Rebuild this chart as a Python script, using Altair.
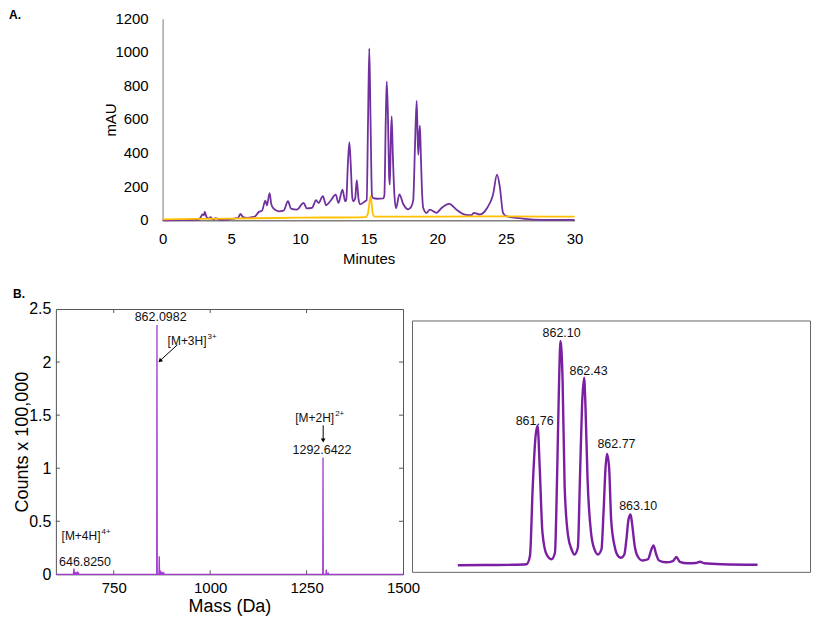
import altair as alt
import pandas as pd

FONT = "Liberation Sans"

# ---------------- Panel A: HPLC chromatogram ----------------
hplc_t = [0, 2.6, 2.75, 2.9, 3.0, 3.07, 3.15, 3.24, 3.4, 3.49, 3.6, 3.73, 3.85, 3.97, 4.1, 4.21,
          4.7, 5.18, 5.5, 5.66, 5.86, 6.15, 6.51, 6.75, 7.0, 7.24, 7.48, 7.6, 7.79, 7.92, 8.09,
          8.45, 8.81, 9.13, 9.35, 9.78, 10.26, 10.5, 10.87, 11.18, 11.35, 11.67, 11.91, 12.2,
          12.61, 12.8, 13.1, 13.29, 13.37, 13.5, 13.6, 13.7, 13.82, 13.9, 14.02, 14.14, 14.26,
          14.38, 14.74, 14.86, 14.96, 15.05, 15.14, 15.25, 15.35, 15.6, 16.07, 16.15, 16.25,
          16.32, 16.4, 16.5, 16.55, 16.62, 16.68, 16.76, 16.88, 17.0, 17.24, 17.53, 17.89,
          18.1, 18.25, 18.38, 18.5, 18.57, 18.62, 18.68, 18.74, 18.8, 18.88, 18.98, 19.22,
          19.46, 19.95, 20.31, 20.87, 21.4, 22.0, 22.49, 22.66, 23.09, 23.63, 24.06, 24.35,
          24.55, 24.79, 25.03, 26.0, 27.0, 28.5, 30]
hplc_mau = [0, 2, 15, 34, 30, 49, 30, 14, 10, 18, 8, 4, 12, 10, 4, 2,
            4, 10, 14, 38, 18, 14, 18, 24, 49, 57, 117, 89, 162, 93, 69,
            53, 57, 113, 69, 63, 103, 70, 73, 119, 103, 143, 89, 113,
            152, 103, 182, 113, 120, 350, 465, 330, 130, 113, 130, 238, 130,
            95, 113, 120, 600, 1024, 600, 140, 131, 128, 130, 150, 600,
            826, 650, 250, 212, 500, 618, 400, 150, 71, 154, 95, 65,
            80, 120, 450, 711, 500, 390, 500, 564, 400, 190, 73, 44,
            63, 44, 73, 97, 63, 34, 30, 44, 34, 73, 152, 271,
            202, 44, 24, 12, 4, 2, 2]
ref_t = [0, 5, 10, 14.8, 14.95, 15.15, 15.3, 15.45, 20, 25, 30]
ref_mau = [5, 10, 15, 19, 40, 143, 40, 21, 22, 23, 21]
a_xticks = [0, 5, 10, 15, 20, 25, 30]
a_yticks = [0, 200, 400, 600, 800, 1000, 1200]

# ---------------- Panel B left: full mass spectrum ----------------
ms_mass = [600, 645.5, 646.8, 648.0, 650.0, 651.0, 652.0, 654.5, 655.5, 657.5, 658.5, 659.5,
           861.4, 862.1, 862.8, 867.2, 868.0, 868.8, 870.5, 871.5, 872.5, 874.5, 875.5, 876.5,
           879.0, 880.0, 881.0, 1291.9, 1292.6, 1293.3, 1300.2, 1301.0, 1301.8, 1305.0,
           1306.0, 1307.0, 1500]
ms_counts = [0, 0, 0.055, 0, 0, 0.022, 0, 0, 0.025, 0, 0.018, 0,
             0, 2.35, 0, 0, 0.17, 0, 0, 0.035, 0, 0, 0.02, 0,
             0, 0.012, 0, 0, 1.10, 0, 0, 0.045, 0, 0,
             0.015, 0, 0]
b_xticks = [750, 1000, 1250, 1500]
b_yticks = [0, 0.5, 1, 1.5, 2, 2.5]
b_inner_xticks = [750, 1000, 1250]
b_inner_yticks = [0.5, 1, 1.5, 2]

# annotations (data coordinates)
ann_text = ["862.0982", "1292.6422", "646.8250"]
ann_mass = [871.6, 1290.0, 675.5]
ann_cnt = [2.425, 1.168, 0.116]
ion_text = ["[M+3H]", "[M+2H]", "[M+4H]"]
ion_sup = ["3+", "2+", "4+"]
ion_mass = [889.6, 1220.7, 614.7]
ion_cnt = [2.20, 1.476, 0.36]
arrow_x = [914.7, 1293.0]
arrow_y = [2.162, 1.404]
arrow_x2 = [869.7, 1293.0]
arrow_y2 = [2.012, 1.262]
arrow_angle = [227, 180]

# ---------------- Panel B right: isotope envelope ----------------
iso_mz = [860.61, 861.0, 861.40, 861.60, 861.65, 861.69, 861.73, 861.76, 861.79, 861.83,
          861.89, 861.96, 862.01, 862.04, 862.07, 862.09, 862.12, 862.15, 862.20, 862.25,
          862.29, 862.34, 862.37, 862.40, 862.43, 862.45, 862.48, 862.53, 862.58, 862.63,
          862.68, 862.71, 862.74, 862.76, 862.79, 862.82, 862.87, 862.92, 862.96, 863.01,
          863.04, 863.07, 863.10, 863.12, 863.16, 863.20, 863.27, 863.35, 863.40, 863.43,
          863.47, 863.51, 863.61, 863.71, 863.76, 863.81, 863.92, 864.04, 864.10, 864.16,
          864.42, 864.93]
iso_int = [0.028, 0.029, 0.030, 0.032, 0.065, 0.34, 0.54, 0.583, 0.42, 0.158,
           0.071, 0.052, 0.078, 0.369, 0.766, 0.921, 0.766, 0.34, 0.144, 0.091,
           0.071, 0.098, 0.369, 0.66, 0.774, 0.66, 0.37, 0.158, 0.091, 0.071,
           0.091, 0.237, 0.42, 0.472, 0.42, 0.21, 0.104, 0.065, 0.058, 0.071,
           0.131, 0.21, 0.23, 0.197, 0.104, 0.065, 0.047, 0.052, 0.091, 0.107,
           0.071, 0.047, 0.040, 0.045, 0.061, 0.042, 0.036, 0.037, 0.042, 0.036,
           0.032, 0.030]
iso_lab = ["861.76", "862.10", "862.43", "862.77", "863.10"]
iso_lab_mz = [861.718, 862.106, 862.494, 862.897, 863.21]
iso_lab_int = [0.603, 0.952, 0.802, 0.512, 0.262]

# ================= layout constants (pixels) =================
A_W, A_H = 520, 202          # panel A view shares its left origin with panel B-left
A_X0 = 107                   # where panel A's axes start inside its view
BL_W, BL_H = 348, 266
BR_X0, BR_X1 = 357, 757      # isotope box, drawn beside the B-left frame
BR_Y0, BR_Y1 = 12, 264
LEFT_EXT = 47                # left extent shared by both rows

ax_common = dict(labelColor="black", titleColor="black", titleFontWeight="normal",
                 labelOverlap=False, labelFlush=False, grid=False, ticks=False)

# ---------------- Panel A ----------------
xa = alt.X("t:Q", scale=alt.Scale(domain=[0, 30], nice=False, range=[A_X0, A_W]),
           axis=alt.Axis(values=a_xticks, format="d", title="Minutes",
                         domainColor="#7f7f7f", domainWidth=1.5, labelFontSize=15, titleFontSize=15,
                         labelPadding=11, titlePadding=5, titleX=A_X0 + (A_W - A_X0) / 2,
                         **ax_common))
ya = alt.Y("v:Q", scale=alt.Scale(domain=[0, 1200], nice=False),
           axis=alt.Axis(values=a_yticks, labels=False, title="mAU", offset=-A_X0,
                         domainColor="#a6a6a6", domainWidth=1.5, titleFontSize=15,
                         titleX=-52, titleBaseline="middle", **ax_common))
purple = alt.Chart(pd.DataFrame({"t": hplc_t, "v": hplc_mau})).mark_line(
    color="#7030A0", strokeWidth=1.8, interpolate="monotone").encode(x=xa, y=ya)
yellow = alt.Chart(pd.DataFrame({"t": ref_t, "v": ref_mau})).mark_line(
    color="#FFC000", strokeWidth=1.8, interpolate="monotone").encode(x="t:Q", y="v:Q")
ylab_a = alt.Chart(pd.DataFrame({"v": a_yticks})).mark_text(
    align="right", baseline="middle", fontSize=15, color="black").encode(
    x=alt.value(A_X0 - 14), y="v:Q", text=alt.Text("v:Q", format="d"))
lab_a = alt.Chart(pd.DataFrame({"s": ["A."]})).mark_text(
    align="left", baseline="top", fontSize=12, fontWeight="bold", color="black").encode(
    x=alt.value(-LEFT_EXT), y=alt.value(-9), text="s:N")
panel_a = alt.layer(purple, yellow, ylab_a, lab_a).properties(
    width=A_W, height=A_H, view=alt.ViewBackground(stroke=None))

# ---------------- Panel B left ----------------
xb = alt.X("m:Q", scale=alt.Scale(domain=[600, 1500], nice=False, zero=False),
           axis=alt.Axis(values=b_xticks, format="d", title="Mass (Da)", domain=False,
                         labelFontSize=15, titleFontSize=18, labelPadding=6, titlePadding=2,
                         **ax_common))
yb = alt.Y("c:Q", scale=alt.Scale(domain=[0, 2.5], nice=False),
           axis=alt.Axis(values=b_yticks, format="~g", title="Counts x 100,000", domain=False,
                         labelFontSize=16, titleFontSize=18, labelPadding=5, titleX=-33,
                         titleBaseline="middle", **ax_common))
spec = alt.Chart(pd.DataFrame({"m": ms_mass, "c": ms_counts})).mark_line(
    color="#A23BD0", strokeWidth=1.3).encode(x=xb, y=yb)
tick_x_df = pd.DataFrame({"m": b_inner_xticks})
tick_y_df = pd.DataFrame({"c": b_inner_yticks})
tk = dict(color="#555555", strokeWidth=1)
tb = alt.Chart(tick_x_df).mark_rule(**tk).encode(x="m:Q", y=alt.value(BL_H), y2=alt.value(BL_H - 4))
tt = alt.Chart(tick_x_df).mark_rule(**tk).encode(x="m:Q", y=alt.value(0), y2=alt.value(4))
tl = alt.Chart(tick_y_df).mark_rule(**tk).encode(y="c:Q", x=alt.value(0), x2=alt.value(4))
tr = alt.Chart(tick_y_df).mark_rule(**tk).encode(y="c:Q", x=alt.value(BL_W), x2=alt.value(BL_W - 4))
ann = alt.Chart(pd.DataFrame({"s": ann_text, "m": ann_mass, "c": ann_cnt})).mark_text(
    fontSize=12.5, color="#111111", align="center", baseline="middle").encode(x="m:Q", y="c:Q", text="s:N")
ion_df = pd.DataFrame({"s": ion_text, "u": ion_sup, "m": ion_mass, "c": ion_cnt})
ions = alt.Chart(ion_df).mark_text(
    fontSize=12, color="#111111", align="left", baseline="middle").encode(x="m:Q", y="c:Q", text="s:N")
sups = alt.Chart(ion_df).mark_text(
    fontSize=8, color="#111111", align="left", baseline="middle", dx=40, dy=-4).encode(
    x="m:Q", y="c:Q", text="u:N")
arr_df = pd.DataFrame({"m": arrow_x, "c": arrow_y, "m2": arrow_x2, "c2": arrow_y2, "a": arrow_angle})
arr_line = alt.Chart(arr_df).mark_rule(color="black", strokeWidth=1).encode(
    x="m:Q", y="c:Q", x2="m2:Q", y2="c2:Q")
arr_head = alt.Chart(arr_df).mark_point(shape="triangle-up", filled=True, color="black",
                                        size=22, opacity=1).encode(
    x="m2:Q", y="c2:Q", angle=alt.Angle("a:Q", scale=None))
lab_b = alt.Chart(pd.DataFrame({"s": ["B."]})).mark_text(
    align="left", baseline="top", fontSize=12, fontWeight="bold", color="black").encode(
    x=alt.value(-43), y=alt.value(-20), text="s:N")
edge = alt.Chart(pd.DataFrame({"s": [""]})).mark_rule(strokeOpacity=0, color="white").encode(
    x=alt.value(-LEFT_EXT), y=alt.value(0), y2=alt.value(10))
bl_layer = alt.layer(spec, tb, tt, tl, tr, arr_line, arr_head, ann, ions, sups, lab_b, edge)

# ---------------- Panel B right (own scales, drawn beside B-left) ----------------
xr = alt.X("mz:Q", scale=alt.Scale(domain=[859.95, 865.7], nice=False, zero=False,
                                   range=[BR_X0, BR_X1]), axis=None)
yr = alt.Y("r:Q", scale=alt.Scale(domain=[0, 1], nice=False, range=[BR_Y1, BR_Y0]), axis=None)
iso = alt.Chart(pd.DataFrame({"mz": iso_mz, "r": iso_int})).mark_line(
    color="#7B1FA2", strokeWidth=2.4, interpolate="monotone").encode(x=xr, y=yr)
iso_t = alt.Chart(pd.DataFrame({"s": iso_lab, "mz": iso_lab_mz, "r": iso_lab_int})).mark_text(
    fontSize=12.5, color="#111111", align="center", baseline="middle").encode(x="mz:Q", y="r:Q", text="s:N")
frame = alt.Chart(pd.DataFrame({"s": [""]})).mark_rect(
    fill=None, stroke="#666666", strokeWidth=1).encode(
    x=alt.value(BR_X0 + 0.5), x2=alt.value(BR_X1 - 0.5), y=alt.value(BR_Y0), y2=alt.value(BR_Y1))
br_layer = alt.layer(frame, iso, iso_t)

panel_b = alt.layer(bl_layer, br_layer).resolve_scale(x="independent", y="independent").properties(
    width=BL_W, height=BL_H, view=alt.ViewBackground(stroke="#555555", strokeWidth=1))

chart = alt.concat(panel_a, panel_b, columns=1, spacing=21).properties(
    padding=0).configure(font=FONT).configure_axis(labelOverlap=False)

chart.save("out.html", embed_options={"renderer": "svg", "actions": False})
